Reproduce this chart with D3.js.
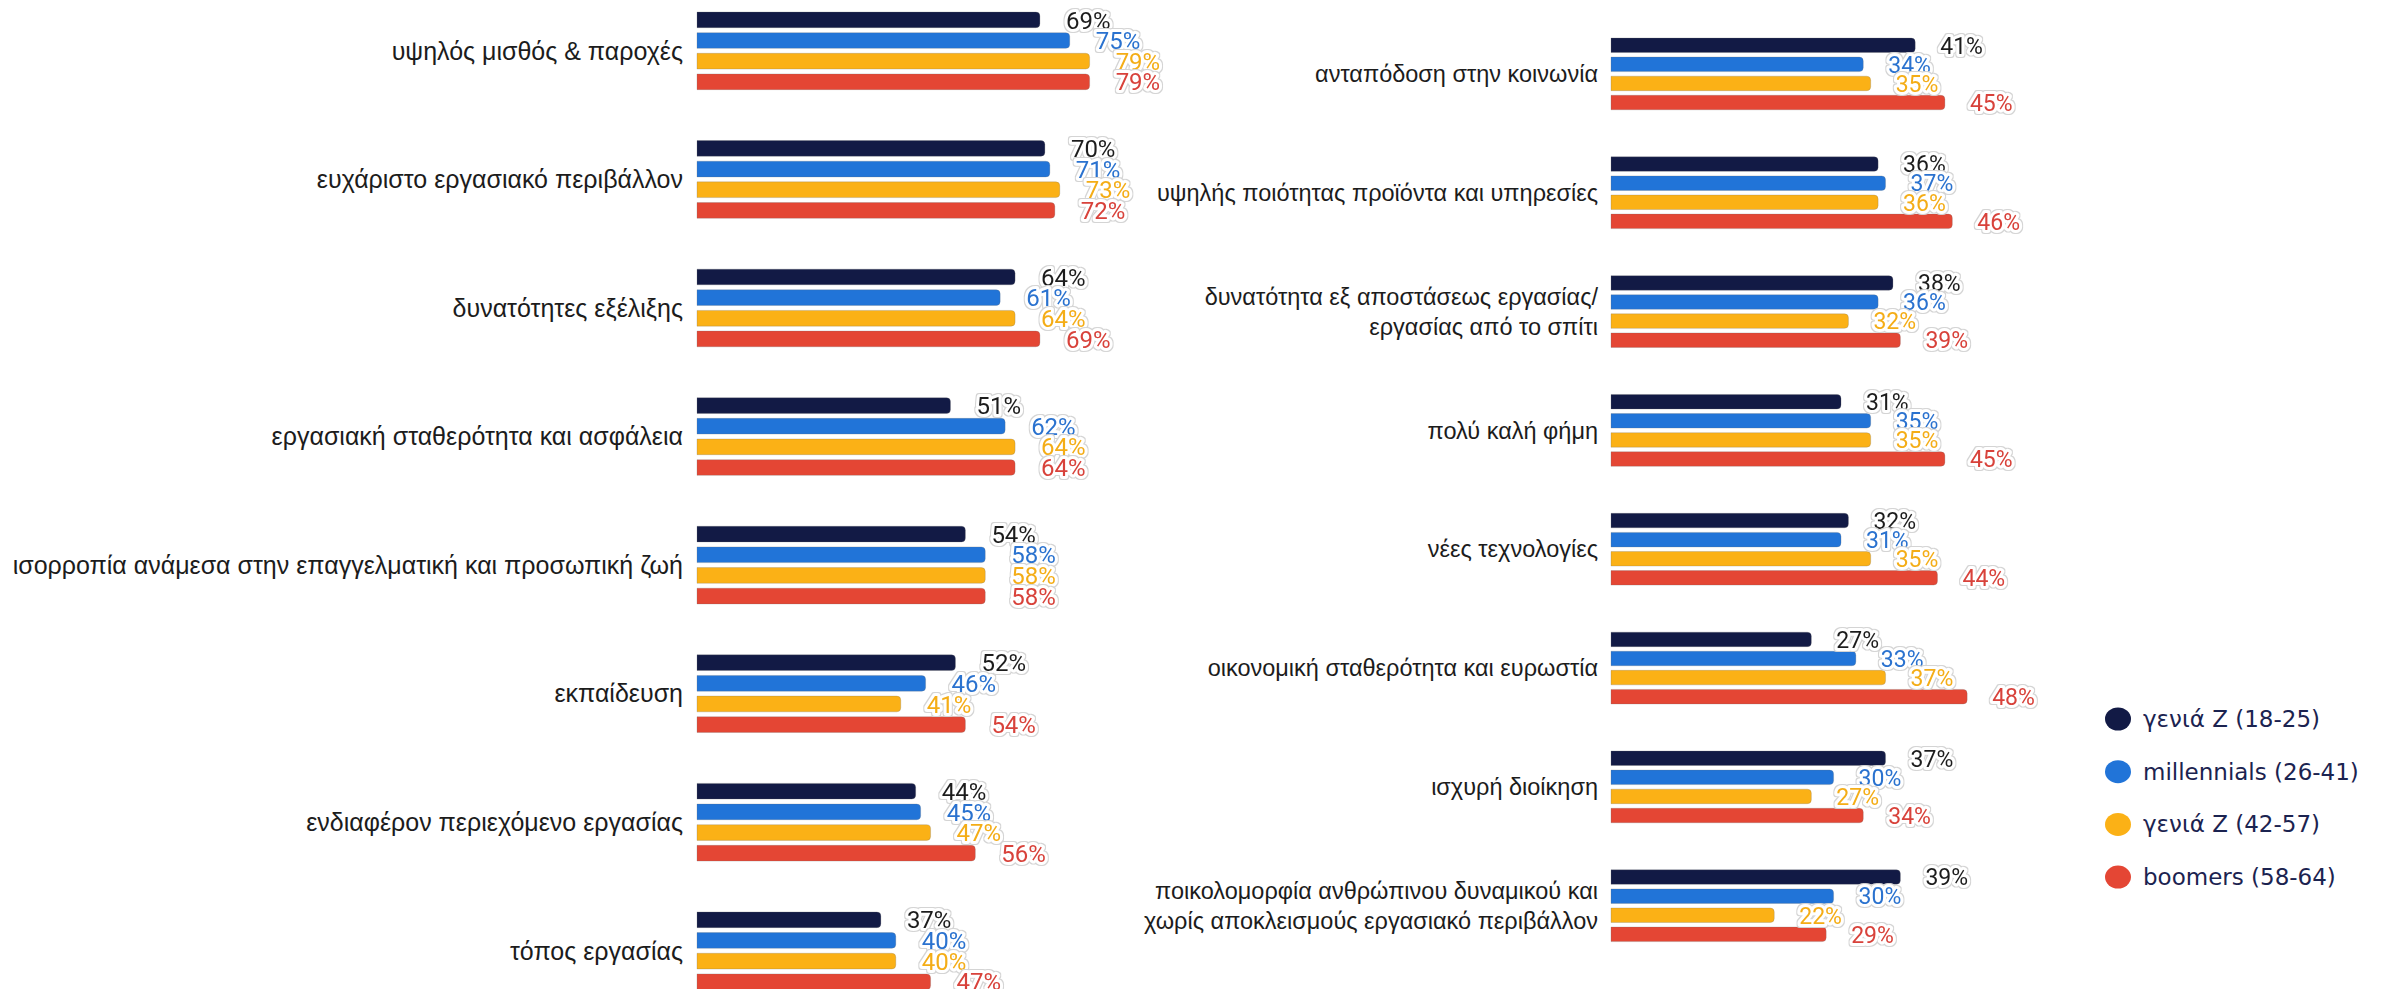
<!DOCTYPE html>
<html>
<head>
<meta charset="utf-8">
<script src="https://cdn.jsdelivr.net/npm/d3@7"></script>
<style>
  html, body { margin: 0; padding: 0; background: #ffffff; }
  svg { display: block; }
</style>
</head>
<body>
<svg id="chart" width="2387" height="989"></svg>
<script>
// Generations (series) and their colours
const series = ["genZ", "millennials", "genX", "boomers"];
const seriesNames = ["γενιά Z (18-25)", "millennials (26-41)", "γενιά Z (42-57)", "boomers (58-64)"];
const barColors = ["#121a45", "#2174d8", "#fbb116", "#e44634"];
const labelColors = ["#1e1e1e", "#2a72cf", "#f4ad18", "#d8423a"];

// Left panel: factors (multi-line labels split by "|")
const leftCategories = [
  "υψηλός μισθός & παροχές",
  "ευχάριστο εργασιακό περιβάλλον",
  "δυνατότητες εξέλιξης",
  "εργασιακή σταθερότητα και ασφάλεια",
  "ισορροπία ανάμεσα στην επαγγελματική και προσωπική ζωή",
  "εκπαίδευση",
  "ενδιαφέρον περιεχόμενο εργασίας",
  "τόπος εργασίας"
];
const leftGenZ        = [69, 70, 64, 51, 54, 52, 44, 37];
const leftMillennials = [75, 71, 61, 62, 58, 46, 45, 40];
const leftGenX        = [79, 73, 64, 64, 58, 41, 47, 40];
const leftBoomers     = [79, 72, 69, 64, 58, 54, 56, 47];

// Right panel
const rightCategories = [
  "ανταπόδοση στην κοινωνία",
  "υψηλής ποιότητας προϊόντα και υπηρεσίες",
  "δυνατότητα εξ αποστάσεως εργασίας/|εργασίας από το σπίτι",
  "πολύ καλή φήμη",
  "νέες τεχνολογίες",
  "οικονομική σταθερότητα και ευρωστία",
  "ισχυρή διοίκηση",
  "ποικολομορφία ανθρώπινου δυναμικού και|χωρίς αποκλεισμούς εργασιακό περιβάλλον"
];
const rightGenZ        = [41, 36, 38, 31, 32, 27, 37, 39];
const rightMillennials = [34, 37, 36, 35, 31, 33, 30, 30];
const rightGenX        = [35, 36, 32, 35, 35, 37, 27, 22];
const rightBoomers     = [45, 46, 39, 45, 44, 48, 34, 29];

const svg = d3.select("#chart");

// thin grey rim around the white halo of the value labels
const defs = svg.append("defs");
const f = defs.append("filter").attr("id", "rim")
  .attr("x", "-20%").attr("y", "-40%").attr("width", "140%").attr("height", "180%");
f.append("feMorphology").attr("in", "SourceAlpha").attr("operator", "dilate")
  .attr("radius", 1).attr("result", "grown");
f.append("feFlood").attr("flood-color", "#d4d4d4").attr("result", "grey");
f.append("feComposite").attr("in", "grey").attr("in2", "grown").attr("operator", "in")
  .attr("result", "ring");
const fm = f.append("feMerge");
fm.append("feMergeNode").attr("in", "ring");
fm.append("feMergeNode").attr("in", "SourceGraphic");

function rows(categories, cols) {
  return categories.map((c, i) => ({
    category: c,
    values: series.map((s, j) => ({ key: s, idx: j, value: cols[j][i] }))
  }));
}

// Bar with rounded right end
function barPath(x0, x1, y, h, r) {
  const w = Math.max(0, x1 - x0);
  r = Math.min(r, w, h / 2);
  return `M${x0},${y}H${x1 - r}A${r},${r} 0 0 1 ${x1},${y + r}V${y + h - r}A${r},${r} 0 0 1 ${x1 - r},${y + h}H${x0}Z`;
}

function drawPanel(cfg) {
  const data = rows(cfg.categories, cfg.cols);
  const x = d3.scaleLinear().domain([0, 100]).range(cfg.xRange);
  const y = d3.scaleBand().domain(cfg.categories).range(cfg.yRange)
    .paddingInner(0.396).paddingOuter(0);
  const yi = d3.scaleBand().domain(series).range([0, y.bandwidth()])
    .paddingInner(0.24).paddingOuter(0);

  const g = svg.append("g");

  // category labels, right aligned against the bars
  const lab = g.selectAll("text.cat").data(data).join("text")
    .attr("class", "cat")
    .attr("text-anchor", "end")
    .attr("x", x(0) - cfg.labelGap)
    .attr("font-family", "'Liberation Sans', Arial, sans-serif")
    .attr("font-size", cfg.catSize)
    .attr("fill", "#1c1c1c");
  lab.each(function (d) {
    const lines = d.category.split("|");
    const cy = y(d.category) + y.bandwidth() / 2;
    const lh = cfg.lineHeight;
    d3.select(this).selectAll("tspan").data(lines).join("tspan")
      .attr("x", x(0) - cfg.labelGap)
      .attr("y", (l, k) => cy + (k - (lines.length - 1) / 2) * lh + cfg.catSize * 0.35)
      .text(l => l);
  });

  const grp = g.selectAll("g.grp").data(data).join("g")
    .attr("class", "grp")
    .attr("transform", d => `translate(0,${y(d.category)})`);

  grp.selectAll("path.bar").data(d => d.values).join("path")
    .attr("class", "bar")
    .attr("d", v => barPath(x(0), x(v.value), yi(v.key), yi.bandwidth(), 4))
    .attr("fill", v => barColors[v.idx])
    .attr("stroke", "rgba(110,110,110,0.25)")
    .attr("stroke-width", 1);

  // value labels with sticker-like halo
  grp.selectAll("text.val").data(d => d.values).join("text")
    .attr("class", "val")
    .attr("x", v => x(v.value) + cfg.valueGap)
    .attr("y", v => yi(v.key) + yi.bandwidth() / 2 + cfg.valSize * 0.36)
    .attr("font-family", "Roboto, sans-serif")
    .attr("font-size", cfg.valSize)
    .attr("fill", v => labelColors[v.idx])
    .attr("stroke", "#ffffff").attr("stroke-width", 6).attr("stroke-linejoin", "round")
    .attr("paint-order", "stroke")
    .attr("filter", "url(#rim)")
    .text(v => v.value + "%");
}

drawPanel({
  categories: leftCategories,
  cols: [leftGenZ, leftMillennials, leftGenX, leftBoomers],
  xRange: [697, 1194],
  yRange: [12, 989.6],
  labelGap: 14,
  valueGap: 26,
  catSize: 25,
  valSize: 24,
  lineHeight: 30
});

drawPanel({
  categories: rightCategories,
  cols: [rightGenZ, rightMillennials, rightGenX, rightBoomers],
  xRange: [1611, 2353],
  yRange: [38, 941.6],
  labelGap: 13,
  valueGap: 25,
  catSize: 23.5,
  valSize: 23,
  lineHeight: 30
});

// legend
const legend = svg.append("g").attr("transform", "translate(2118,719)");
const li = legend.selectAll("g").data(series).join("g")
  .attr("transform", (d, i) => `translate(0,${i * 52.7})`);
li.append("ellipse").attr("rx", 13).attr("ry", 11.5)
  .attr("fill", (d, i) => barColors[i]);
li.append("text")
  .attr("x", 25).attr("y", 8)
  .attr("font-family", "'DejaVu Sans', Verdana, sans-serif")
  .attr("font-size", 23)
  .attr("fill", "#1b2350")
  .text((d, i) => seriesNames[i]);
</script>
</body>
</html>
